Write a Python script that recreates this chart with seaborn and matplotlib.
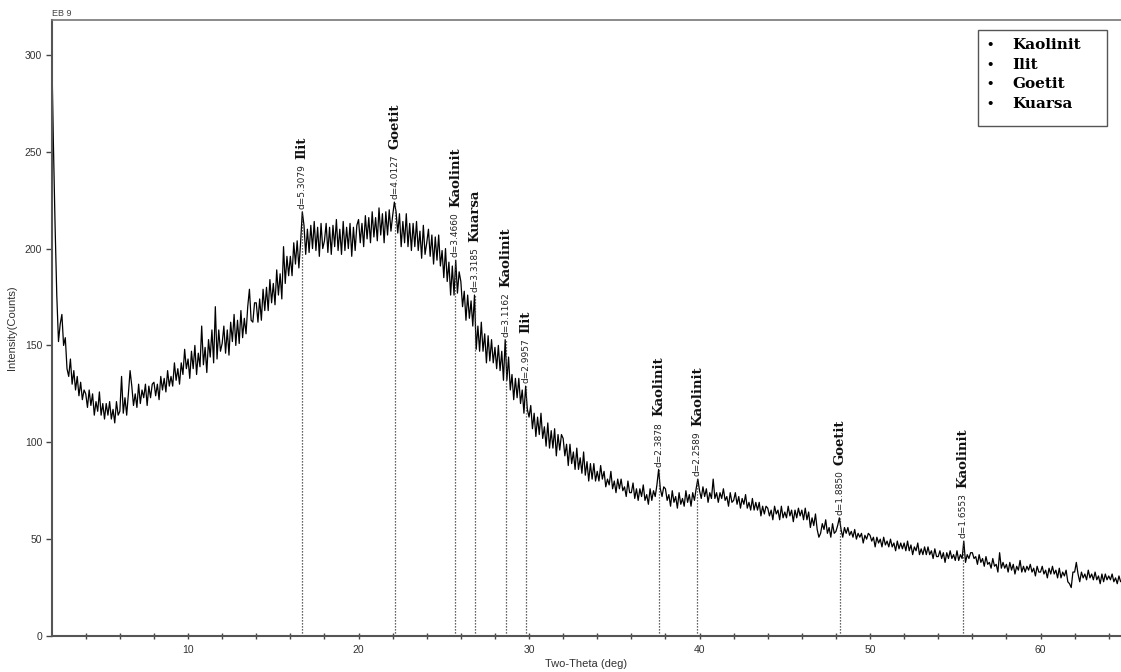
import numpy as np
import pandas as pd
import matplotlib
matplotlib.use('Agg')
import matplotlib.pyplot as plt
import seaborn as sns
from matplotlib.patches import Rectangle
from matplotlib.ticker import MultipleLocator

# XRD scan, sample EB 9
scan_start = 2.0
scan_step = 0.1
counts = [
    305, 255, 212, 176, 152, 161, 166, 150, 154, 138, 134, 143, 130, 137, 127, 134, 124, 131, 122, 127,  # 2.0
    125, 118, 127, 119, 125, 114, 121, 116, 126, 114, 120, 112, 120, 114, 121, 112, 117, 110, 121, 114,  # 4.0
    116, 134, 115, 123, 114, 125, 137, 129, 119, 125, 118, 130, 120, 127, 123, 130, 119, 129, 123, 130,  # 6.0
    131, 124, 130, 122, 134, 127, 133, 126, 137, 129, 134, 129, 141, 132, 138, 130, 141, 135, 148, 138,  # 8.0
    143, 133, 147, 138, 150, 135, 146, 139, 160, 140, 149, 136, 153, 144, 158, 141, 170, 143, 158, 147,  # 10.0
    151, 160, 146, 158, 145, 162, 152, 166, 150, 163, 151, 168, 154, 164, 156, 170, 179, 163, 162, 172,  # 12.0
    172, 162, 174, 163, 179, 168, 180, 168, 184, 172, 182, 171, 189, 176, 187, 174, 201, 182, 196, 186,  # 14.0
    196, 186, 203, 192, 204, 190, 203, 219, 212, 197, 210, 198, 212, 200, 214, 199, 211, 196, 213, 200,  # 16.0
    204, 213, 198, 211, 197, 212, 201, 215, 199, 210, 197, 214, 199, 211, 200, 213, 196, 211, 199, 212,  # 18.0
    215, 203, 213, 201, 217, 205, 216, 203, 219, 206, 216, 204, 221, 207, 218, 203, 219, 207, 220, 209,  # 20.0
    217, 224, 219, 208, 218, 201, 214, 203, 218, 201, 213, 199, 213, 201, 214, 199, 209, 195, 212, 197,  # 22.0
    203, 210, 196, 207, 192, 206, 194, 207, 191, 199, 185, 200, 183, 193, 176, 191, 176, 194, 177, 188,  # 24.0
    183, 170, 178, 163, 176, 164, 173, 160, 176, 148, 160, 147, 162, 147, 156, 141, 155, 142, 153, 141,  # 26.0
    149, 138, 150, 137, 147, 132, 153, 132, 144, 127, 135, 122, 133, 123, 133, 120, 127, 115, 129, 117,  # 28.0
    113, 119, 107, 115, 103, 113, 104, 115, 102, 108, 98, 110, 97, 106, 97, 107, 93, 104, 96, 104,      # 30.0
    102, 93, 99, 88, 99, 89, 95, 86, 97, 86, 92, 84, 95, 83, 90, 80, 89, 81, 89, 80,                    # 32.0
    85, 80, 88, 81, 85, 77, 81, 78, 85, 76, 80, 74, 81, 76, 81, 75, 77, 72, 80, 74,                     # 34.0
    74, 79, 71, 76, 70, 76, 72, 78, 70, 73, 68, 76, 70, 75, 72, 78, 86, 76, 72, 77,                     # 36.0
    76, 70, 73, 67, 75, 69, 72, 66, 74, 68, 71, 67, 75, 69, 73, 67, 74, 70, 76, 81,                     # 38.0
    75, 71, 77, 72, 76, 69, 74, 71, 81, 71, 74, 69, 74, 71, 76, 70, 72, 67, 74, 69,                     # 40.0
    70, 74, 68, 72, 66, 71, 68, 73, 66, 69, 65, 71, 65, 69, 65, 69, 62, 67, 63, 67,                     # 42.0
    66, 62, 65, 60, 67, 63, 65, 60, 67, 61, 64, 61, 67, 62, 65, 59, 65, 61, 66, 62,                     # 44.0
    65, 60, 66, 60, 64, 56, 61, 57, 63, 55, 51, 53, 58, 55, 60, 53, 56, 51, 58, 53,                     # 46.0
    54, 57, 61, 55, 51, 56, 53, 56, 52, 54, 51, 55, 50, 53, 51, 53, 48, 52, 50, 53,                     # 48.0
    52, 49, 51, 46, 51, 48, 50, 46, 51, 47, 49, 46, 50, 46, 48, 44, 49, 45, 48, 45,                     # 50.0
    48, 44, 49, 44, 47, 42, 46, 44, 48, 42, 45, 42, 46, 42, 46, 42, 44, 40, 45, 41,                     # 52.0
    41, 44, 40, 43, 38, 43, 40, 44, 40, 42, 39, 44, 39, 42, 40, 49, 38, 42, 40, 43,                     # 54.0
    43, 40, 41, 37, 42, 38, 40, 36, 41, 37, 38, 35, 40, 36, 37, 33, 43, 35, 38, 35,                     # 56.0
    37, 33, 38, 34, 37, 32, 36, 34, 39, 33, 36, 33, 36, 34, 37, 33, 35, 31, 36, 33,                     # 58.0
    33, 36, 32, 34, 30, 35, 32, 36, 32, 34, 30, 35, 30, 33, 31, 34, 28, 27, 25, 33,                     # 60.0
    33, 38, 32, 28, 33, 30, 32, 29, 34, 30, 32, 29, 33, 29, 31, 27, 32, 28, 32, 29,                     # 62.0
    31, 29, 32, 28, 30, 27, 31, 28, 29,                                                                 # 64.0
]

# identified peaks
peak_2theta = [16.69, 22.14, 25.68, 26.84, 28.62, 29.80, 37.64, 39.88, 48.24, 55.47]
peak_height = [219, 224, 194, 176, 153, 129, 86, 81, 61, 49]
peak_d = ['d=5.3079', 'd=4.0127', 'd=3.4660', 'd=3.3185', 'd=3.1162',
          'd=2.9957', 'd=2.3878', 'd=2.2589', 'd=1.8850', 'd=1.6553']
peak_mineral = ['Ilit', 'Goetit', 'Kaolinit', 'Kuarsa', 'Kaolinit',
                'Ilit', 'Kaolinit', 'Kaolinit', 'Goetit', 'Kaolinit']

legend_minerals = ['Kaolinit', 'Ilit', 'Goetit', 'Kuarsa']

df = pd.DataFrame({
    'two_theta': scan_start + scan_step * np.arange(len(counts)),
    'counts': counts,
})

sns.set_style('ticks')
plt.rcParams['font.family'] = ['Liberation Sans', 'DejaVu Sans']

W, H = 1121, 672
fig = plt.figure(figsize=(W / 100, H / 100), dpi=100)
ax = fig.add_axes([52 / W, 36 / H, 1069 / W, 616 / H])

sns.lineplot(data=df, x='two_theta', y='counts', ax=ax, color='black',
             linewidth=0.9, estimator=None, sort=False)

ax.vlines(peak_2theta, 0, peak_height, colors='#333333', linewidth=0.9,
          linestyles=(0, (1, 1.4)))

fig.canvas.draw()
renderer = fig.canvas.get_renderer()
for tt, h, d, name in zip(peak_2theta, peak_height, peak_d, peak_mineral):
    t1 = ax.annotate(d, xy=(tt, h), xytext=(0, 2), textcoords='offset points',
                     rotation=90, ha='center', va='bottom', fontsize=6.5,
                     family='DejaVu Sans', color='#222222')
    bb = t1.get_window_extent(renderer=renderer)
    off = 2 + bb.height * 72 / fig.dpi + 4
    ax.annotate(name, xy=(tt, h), xytext=(0, off), textcoords='offset points',
                rotation=90, ha='center', va='bottom', fontsize=9.5,
                family='DejaVu Serif', weight='bold', color='#111111')

ax.set_xlim(2.02, 64.72)
ax.set_ylim(0, 318)
ax.xaxis.set_major_locator(MultipleLocator(10))
ax.xaxis.set_minor_locator(MultipleLocator(2))
ax.yaxis.set_major_locator(MultipleLocator(50))
ax.tick_params(axis='x', which='both', direction='inout', length=5, width=1,
               color='#444444', labelsize=7.5, labelcolor='#333333', pad=4)
ax.tick_params(axis='y', direction='out', length=4, width=1,
               color='#444444', labelsize=7.5, labelcolor='#333333', pad=3)

for side in ['left', 'bottom']:
    ax.spines[side].set_color('#555555')
    ax.spines[side].set_linewidth(1.5)
ax.spines['top'].set_color('#777777')
ax.spines['top'].set_linewidth(1.2)
ax.spines['right'].set_visible(False)

ax.set_xlabel('Two-Theta (deg)', fontsize=8, color='#333333', labelpad=3)
ax.set_ylabel('Intensity(Counts)', fontsize=8, color='#333333', labelpad=6)
ax.set_title('EB 9', loc='left', fontsize=6.5, color='#444444', pad=3)

# mineral key box (upper right)
ax.add_patch(Rectangle((0.8662, 0.828), 0.1207, 0.156, transform=ax.transAxes,
                       facecolor='white', edgecolor='#555555', linewidth=1.0,
                       zorder=5))
for i, name in enumerate(legend_minerals):
    y = 0.9594 - i * 0.0319
    ax.text(0.8774, y, '\u2022', transform=ax.transAxes, ha='center',
            va='center', fontsize=11, color='black', zorder=6)
    ax.text(0.8980, y, name, transform=ax.transAxes, ha='left', va='center',
            fontsize=11, family='DejaVu Serif', weight='bold', color='black',
            zorder=6)

fig.savefig('out.png', dpi=100)
